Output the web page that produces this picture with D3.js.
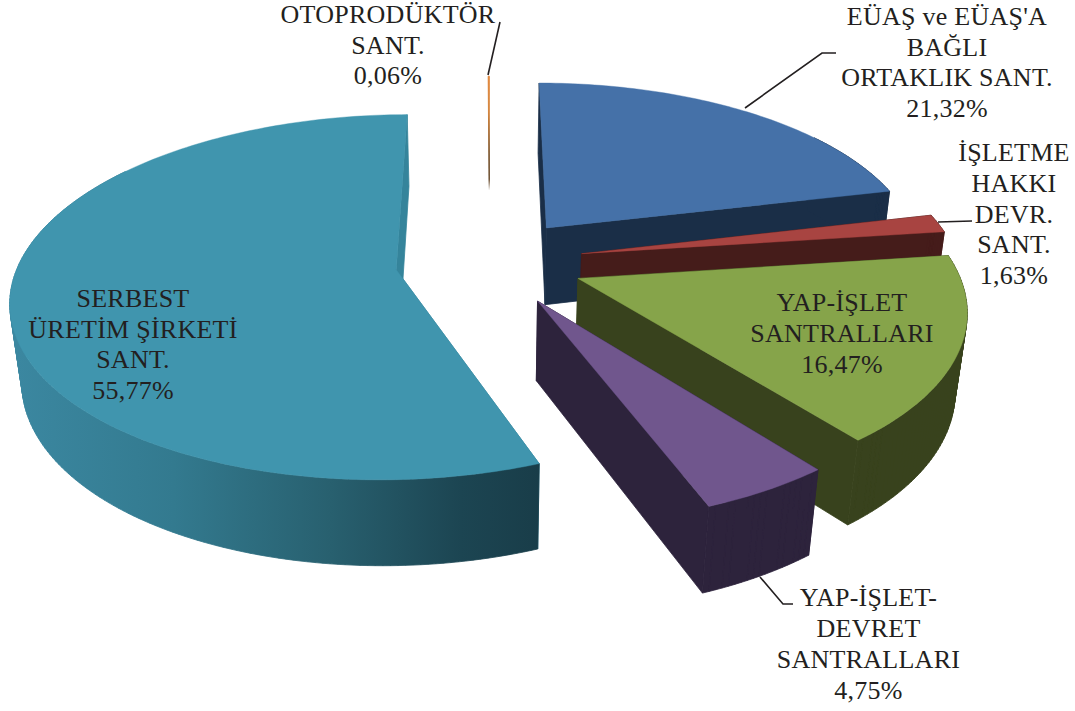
<!DOCTYPE html>
<html lang="tr">
<head>
<meta charset="utf-8">
<title>Santral paylari</title>
<script src="https://cdn.jsdelivr.net/npm/d3@7"></script>
<style>
  html, body { margin: 0; background: #fff; }
  svg { display: block; }
  text { font-family: "Liberation Serif", serif; font-size: 26px; letter-spacing: 0.25px; fill: #231f20; text-anchor: middle; }
</style>
</head>
<body>
<div id="chart"></div>
<script>
const categories = [
  "EÜAŞ ve EÜAŞ'A BAĞLI ORTAKLIK SANT.",
  "İŞLETME HAKKI DEVR. SANT.",
  "YAP-İŞLET SANTRALLARI",
  "YAP-İŞLET-DEVRET SANTRALLARI",
  "SERBEST ÜRETİM ŞİRKETİ SANT.",
  "OTOPRODÜKTÖR SANT.",
];
const values = [21.32, 1.63, 16.47, 4.75, 55.77, 0.06];
const valueLabels = ["21,32%", "1,63%", "16,47%", "4,75%", "55,77%", "0,06%"];
const labelLines = [
  ["EÜAŞ ve EÜAŞ'A", "BAĞLI", "ORTAKLIK SANT."],
  ["İŞLETME", "HAKKI", "DEVR.", "SANT."],
  ["YAP-İŞLET", "SANTRALLARI"],
  ["YAP-İŞLET-", "DEVRET", "SANTRALLARI"],
  ["SERBEST", "ÜRETİM ŞİRKETİ", "SANT."],
  ["OTOPRODÜKTÖR", "SANT."],
];

// colours and label placement, same order as categories
const topColors = ["#4571a8", "#a84441", "#86a44a", "#70568d", "#4095ae", "#e08030"];
const sideColors = ["#1a2e47", "#451c1a", "#38421d", "#2d233c", "#35849b", "none"];
const labelAnchors = [[947, 25], [1014, 161], [842, 311], [868.5, 606], [133, 307], [388, 23]];
const lineHeights = [30.7, 30.8, 31, 31, 30.7, 30.7];
const leaders = [
  [[745, 108], [822, 53], [836, 53]],
  [[938, 222], [972, 221]],
  null,
  [[760, 577], [783, 604], [793, 604]],
  null,
  [[488, 75], [500, 22]],
];

const width = 1075;
const height = 711;

// the pie is a flat disc seen in perspective
const center = { x: 489.5, y: 261.5 };
const perspective = 0.15;
const depthPerspective = 0.025;
const explode = 0.25;

const xScale = d3.scaleLinear().domain([-1, 1]).range([-377, 377]);
const yScale = d3.scaleLinear().domain([-1, 1]).range([176, -176]);
const zScale = d3.scaleLinear().domain([0, 1]).range([0, 80]);

function project(gx, gy, gz) {
  const s = 1 / (1 + perspective * gy + depthPerspective * gz);
  return [
    center.x + xScale(gx) * s,
    center.y + (yScale(gy) + zScale(gz)) * s,
  ];
}

const pie = d3.pie().sort(null)(values);
const slices = pie.map((d, i) => {
  const mid = (d.startAngle + d.endAngle) / 2;
  return {
    i,
    start: d.startAngle,
    end: d.endAngle,
    ox: Math.sin(mid) * explode,
    oy: Math.cos(mid) * explode,
  };
});

function rimPoint(s, a, gz) {
  return project(s.ox + Math.sin(a), s.oy + Math.cos(a), gz);
}

function rimAngles(s) {
  const steps = Math.max(2, Math.ceil(((s.end - s.start) * 180) / Math.PI));
  return d3.range(steps + 1).map((k) => s.start + ((s.end - s.start) * k) / steps);
}

const line = d3.line();

function topPath(s) {
  const pts = [project(s.ox, s.oy, 0)].concat(rimAngles(s).map((a) => rimPoint(s, a, 0)));
  return line(pts) + "Z";
}

// only the front part of the rim can be seen. One quad per step, all wound
// the same way, or the part where the side folds round would drop out
function rimWallPath(s) {
  const angles = rimAngles(s).filter((a) => Math.cos(a) < 0.6);
  return d3
    .pairs(angles)
    .map(([a, b]) => {
      const quad = [
        rimPoint(s, a, 0),
        rimPoint(s, b, 0),
        rimPoint(s, b, 1),
        rimPoint(s, a, 1),
      ];
      if (d3.polygonArea(quad) < 0) quad.reverse();
      return line(quad) + "Z";
    })
    .join("");
}

function radialWallPath(s, a) {
  return (
    line([
      project(s.ox, s.oy, 0),
      rimPoint(s, a, 0),
      rimPoint(s, a, 1),
      project(s.ox, s.oy, 1),
    ]) + "Z"
  );
}

const svg = d3
  .select("#chart")
  .append("svg")
  .attr("width", width)
  .attr("height", height);

const defs = svg.append("defs");

// big slice has a shaded side, dark towards the cut
const sideGradient = defs
  .append("linearGradient")
  .attr("id", "big-side")
  .attr("gradientUnits", "userSpaceOnUse")
  .attr("x1", rimPoint(slices[4], -Math.PI / 2, 0)[0])
  .attr("x2", rimPoint(slices[4], slices[4].start, 0)[0])
  .attr("y1", 0)
  .attr("y2", 0);
[
  [0, "#3b87a0"],
  [0.3, "#337a8f"],
  [0.6, "#28606f"],
  [0.85, "#1c4552"],
  [1, "#193d49"],
].forEach(([o, c]) => sideGradient.append("stop").attr("offset", o).attr("stop-color", c));

// the smallest slice is only a thin line which fades out
const thin = slices[5];
const thinGradient = defs
  .append("linearGradient")
  .attr("id", "thin-top")
  .attr("gradientUnits", "userSpaceOnUse")
  .attr("x1", 0)
  .attr("x2", 0)
  .attr("y1", rimPoint(thin, thin.start, 0)[1])
  .attr("y2", project(thin.ox, thin.oy, 0)[1]);
[
  [0, "#e08030"],
  [0.25, "#d07a2c"],
  [0.55, "#6e4418"],
  [0.72, "#5a3a18"],
  [0.8, "#ffffff"],
].forEach(([o, c]) => thinGradient.append("stop").attr("offset", o).attr("stop-color", c));

// back slices first so the front ones cover them
const drawOrder = [5, 0, 1, 2, 4, 3];

drawOrder.forEach((i) => {
  const s = slices[i];
  const g = svg.append("g");
  if (i === 5) {
    g.append("path")
      .attr("d", topPath(s))
      .attr("fill", "url(#thin-top)")
      .attr("stroke", "url(#thin-top)")
      .attr("stroke-width", 0.8);
    return;
  }
  [s.start, s.end].forEach((a) => {
    g.append("path")
      .attr("d", radialWallPath(s, a))
      .attr("fill", sideColors[i])
      .attr("stroke", sideColors[i])
      .attr("stroke-width", 0.8);
  });
  const wallFill = i === 4 ? "url(#big-side)" : sideColors[i];
  g.append("path")
    .attr("d", rimWallPath(s))
    .attr("fill", wallFill)
    .attr("stroke", wallFill)
    .attr("stroke-width", 0.8);
  g.append("path")
    .attr("d", topPath(s))
    .attr("fill", topColors[i])
    .attr("stroke", topColors[i])
    .attr("stroke-width", 0.4);
});

// leader lines
leaders.forEach((pts) => {
  if (!pts) return;
  svg
    .append("path")
    .attr("d", line(pts))
    .attr("fill", "none")
    .attr("stroke", "#231f20")
    .attr("stroke-width", 1.6);
});

// labels
categories.forEach((c, i) => {
  const lines = labelLines[i].concat(valueLabels[i]);
  const t = svg
    .append("text")
    .attr("x", labelAnchors[i][0])
    .attr("y", labelAnchors[i][1]);
  lines.forEach((l, k) => {
    t.append("tspan")
      .attr("x", labelAnchors[i][0])
      .attr("y", labelAnchors[i][1] + k * lineHeights[i])
      .text(l);
  });
});
</script>
</body>
</html>
